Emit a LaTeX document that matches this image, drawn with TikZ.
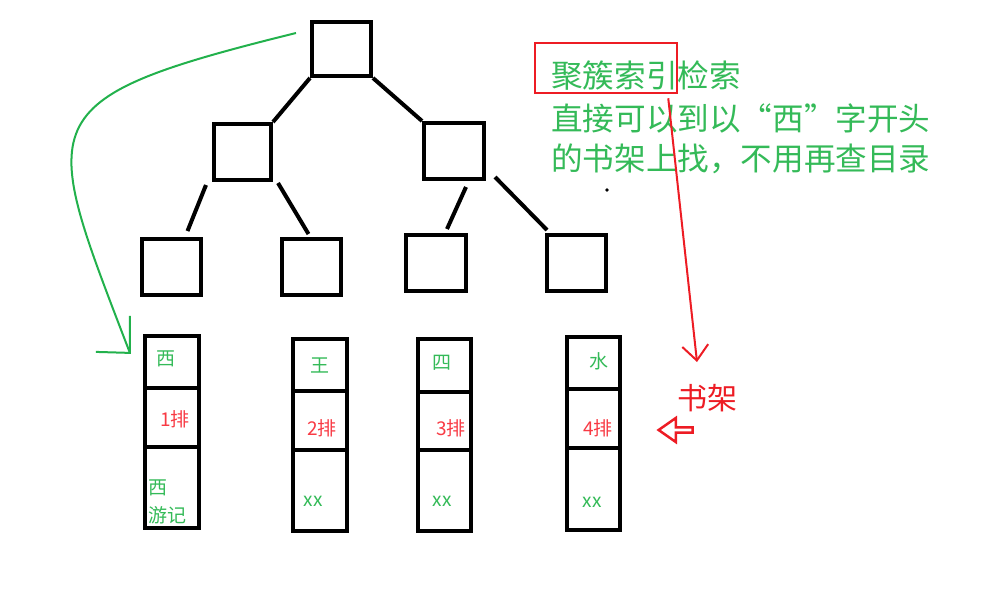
\documentclass[tikz,border=0pt]{standalone}
\usepackage{fontspec}
\setmainfont{Noto Sans CJK SC}
\usetikzlibrary{arrows.meta,calc,shapes.arrows}
\definecolor{pgreen}{RGB}{34,177,76}
\definecolor{tgreen}{RGB}{52,186,88}
\definecolor{pred}{RGB}{237,28,36}
\definecolor{tred}{RGB}{248,58,68}
\begin{document}
\begin{tikzpicture}[x=1pt,y=-1pt,
  treebox/.style={draw=black,line width=4pt,inner sep=0pt},
  shelfbox/.style={draw=black,line width=4.2pt,inner sep=0pt,minimum width=54pt},
  edge/.style={draw=black,line width=4pt},
  lbl/.style={inner sep=0pt,font=\fontsize{19}{28}\selectfont},
  anno/.style={inner sep=0pt,anchor=west,text=tgreen,font=\fontsize{31.6}{36}\selectfont}]
\useasboundingbox (0,0) rectangle (988,592);
% tree
\node[treebox,minimum width=59pt,minimum height=54pt] (root) at (341.5,49) {};
\node[treebox,minimum width=57pt,minimum height=56pt] (la) at (242.5,152) {};
\node[treebox,minimum width=60pt,minimum height=56pt] (lb) at (454,151) {};
\node[treebox,minimum width=59pt,minimum height=56pt] (b1) at (171.5,267) {};
\node[treebox,minimum width=59pt,minimum height=56pt] (b2) at (311.5,267) {};
\node[treebox,minimum width=60pt,minimum height=56pt] (b3) at (436,263) {};
\node[treebox,minimum width=59pt,minimum height=56pt] (b4) at (576.5,263) {};
\draw[edge] (root.south west) -- (la.north east);
\draw[edge] (root.south east) -- (lb.north west);
\draw[edge] ($(la.south west)+(-6,3)$) -- ($(b1.north)+(16,-6)$);
\draw[edge] ($(la.south east)+(5,1)$) -- ($(b2.north)+(-3,-3)$);
\draw[edge] ($(lb.south)+(12,6)$) -- ($(b3.north)+(11,-4)$);
\draw[edge] ($(lb.south east)+(9,-4)$) -- ($(b4.north west)+(2,-3)$);
% shelves
\node[shelfbox,minimum height=52pt] (s1a) at (172,362) {};
\node[shelfbox,minimum height=59pt] (s1b) at (172,417.5) {};
\node[shelfbox,minimum height=81pt] (s1c) at (172,487.5) {};
\node[shelfbox,minimum height=52pt] (s2a) at (320,365) {};
\node[shelfbox,minimum height=59pt] (s2b) at (320,420.5) {};
\node[shelfbox,minimum height=81pt] (s2c) at (320,490.5) {};
\node[shelfbox,minimum width=53pt,minimum height=53pt] (s3a) at (444.5,365.5) {};
\node[shelfbox,minimum width=53pt,minimum height=58pt] (s3b) at (444.5,421) {};
\node[shelfbox,minimum width=53pt,minimum height=81pt] (s3c) at (444.5,490.5) {};
\node[shelfbox,minimum width=53pt,minimum height=52pt] (s4a) at (593.5,363) {};
\node[shelfbox,minimum width=53pt,minimum height=59pt] (s4b) at (593.5,418.5) {};
\node[shelfbox,minimum width=53pt,minimum height=82pt] (s4c) at (593.5,489) {};
% shelf labels
\node[lbl,text=tgreen] (l1a) at (166,359) {西};
\node[lbl,text=tred] (l1b) at (175,419) {1排};
\node[lbl,text=tgreen,align=left,anchor=west] (l1c) at (148,502) {西\\游记};
\node[lbl,text=tgreen] (l2a) at (320,365) {王};
\node[lbl,text=tred] (l2b) at (322,428) {2排};
\node[lbl,text=tgreen] (l2c) at (313,501) {xx};
\node[lbl,text=tgreen] (l3a) at (442,363) {四};
\node[lbl,text=tred] (l3b) at (451,428) {3排};
\node[lbl,text=tgreen] (l3c) at (442,501) {xx};
\node[lbl,text=tgreen] (l4a) at (599,361) {水};
\node[lbl,text=tred] (l4b) at (598,428) {4排};
\node[lbl,text=tgreen] (l4c) at (592,502) {xx};
% annotation
\node[anno] (t1) at (551,76) {聚簇索引检索};
\node[anno] (t2) at (551,118) {直接可以到以\makebox[1em][r]{“}西\makebox[1em][l]{”}字开头};
\node[anno] (t3) at (551,159) {的书架上找，不用再查目录};
\node[draw=pred,line width=2.5pt,minimum width=142pt,minimum height=50pt,inner sep=0pt] (rbox) at (606,68) {};
\node[circle,fill=black,inner sep=0pt,minimum size=3.6pt] (dot) at (607,190) {};
\node[inner sep=0pt,text=pred,font=\fontsize{30}{32}\selectfont] (shujia) at (707,398) {书架};
% red arrow
\coordinate (rtip) at (697,362);
\draw[pred,line width=2pt,-{Straight Barb[length=15pt,width=26pt]}] ($(rbox.south east)+(-10,4)$) -- (rtip);
\node[draw=pred,line width=2.5pt,single arrow,shape border rotate=180,minimum height=34pt,minimum width=24pt,single arrow head extend=4.5pt,single arrow tip angle=70,inner sep=0pt] (harrow) at (677.5,430) {};
% green curved arrow
\coordinate (gstart) at ($(root.north west)+(-14,13)$);
\coordinate (gtip) at ($(s1a.north west)+(-13,19)$);
\draw[pgreen,line width=2pt] (gstart) .. controls (25,100) and (40,118) .. (gtip);
\draw[pgreen,line width=2pt] ($(gtip)+(0,-37)$) -- (gtip) -- ($(gtip)+(-34,-1)$);
\end{tikzpicture}
\end{document}
